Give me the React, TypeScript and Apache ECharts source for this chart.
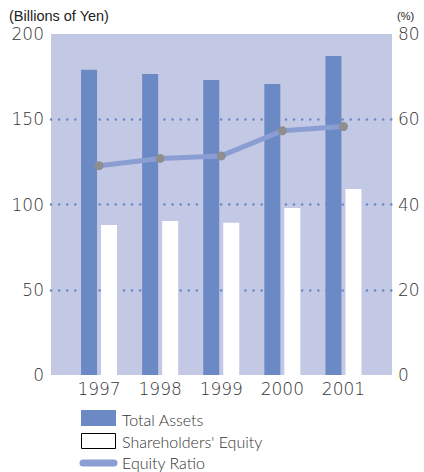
import React, { useEffect, useRef } from "react";
import * as echarts from "echarts";

const years = ["1997", "1998", "1999", "2000", "2001"];
const totalAssets = [179, 176.5, 173, 170.7, 187.1];
const shareholdersEquity = [88, 90.3, 89.3, 97.9, 109.1];
const equityRatio = [49.1, 50.8, 51.4, 57.3, 58.3];
const leftTicks = { min: 0, max: 200, interval: 50 };
const rightTicks = { min: 0, max: 80, interval: 20 };

const BLUE = "#6b89c4";
const BG = "#c3c8e5";
const LINE = "#8b9ed3";
const NUM_FONT = "DejaVu Sans";
const TXT_FONT = "Lato";

export default function App() {
  const ref = useRef<HTMLDivElement>(null);
  useEffect(() => {
    if (!ref.current) return;
    const chart = echarts.init(ref.current, undefined, { renderer: "svg" });
    const numLabel = { fontFamily: NUM_FONT, fontWeight: 200 as any, fontSize: 17, color: "#333" };
    chart.setOption({
      animation: false,
      backgroundColor: "#fff",
      grid: [
        { left: 51, top: 34, width: 341, height: 341, show: true, backgroundColor: BG, borderWidth: 0 },
        { left: 68.5, top: 34, width: 305.5, height: 341 },
      ],
      xAxis: [
        { gridIndex: 0, type: "category", data: [""], show: false },
        {
          gridIndex: 1,
          type: "category",
          data: years,
          axisLine: { show: false },
          axisTick: { show: false },
          axisLabel: { ...numLabel, margin: 5 },
        },
      ],
      yAxis: [
        {
          gridIndex: 0,
          type: "value",
          position: "left",
          ...leftTicks,
          axisLine: { show: false },
          axisTick: { show: false },
          axisLabel: { ...numLabel, margin: 7 },
          splitLine: {
            show: true,
            lineStyle: {
              color: ["transparent", BLUE, BLUE, BLUE, "transparent"],
              width: 2.5,
              type: [0.1, 8],
              cap: "round",
            },
          },
        },
        {
          gridIndex: 0,
          type: "value",
          position: "right",
          ...rightTicks,
          axisLine: { show: false },
          axisTick: { show: false },
          axisLabel: { ...numLabel, margin: 6 },
          splitLine: { show: false },
        },
        { gridIndex: 1, type: "value", ...leftTicks, show: false, splitLine: { show: false } },
        { gridIndex: 1, type: "value", ...rightTicks, show: false, splitLine: { show: false } },
      ],
      series: [
        {
          name: "Total Assets",
          type: "bar",
          xAxisIndex: 1,
          yAxisIndex: 2,
          data: totalAssets,
          barWidth: 16,
          barGap: "25%",
          itemStyle: { color: BLUE },
        },
        {
          name: "Shareholders' Equity",
          type: "bar",
          xAxisIndex: 1,
          yAxisIndex: 2,
          data: shareholdersEquity,
          barWidth: 16,
          barGap: "25%",
          itemStyle: { color: "#ffffff" },
        },
        {
          name: "Equity Ratio",
          type: "line",
          xAxisIndex: 1,
          yAxisIndex: 3,
          data: equityRatio,
          z: 5,
          symbol: "circle",
          symbolSize: 9,
          lineStyle: { color: LINE, width: 5 },
          itemStyle: { color: "#8e8e8e" },
        },
      ],
      graphic: [
        {
          type: "text",
          left: 9,
          top: 8,
          style: { text: "(Billions of Yen)", fontFamily: "Liberation Sans", fontWeight: "normal", fontSize: 14.5, fill: "#222" },
        },
        {
          type: "text",
          left: 397,
          top: 10,
          style: { text: "(%)", fontFamily: "Liberation Sans", fontSize: 11, fill: "#222" },
        },
        { type: "rect", shape: { x: 81, y: 410, width: 35, height: 16 }, style: { fill: BLUE } },
        {
          type: "rect",
          shape: { x: 81.5, y: 433.5, width: 34, height: 15 },
          style: { fill: "#fff", stroke: "#000", lineWidth: 1 },
        },
        {
          type: "line",
          shape: { x1: 83, y1: 463, x2: 114, y2: 463 },
          style: { stroke: LINE, lineWidth: 7, lineCap: "round" },
        },
        {
          type: "text",
          x: 122,
          y: 419,
          style: { text: "Total Assets", fontFamily: TXT_FONT, fontWeight: 300, fontSize: 16, fill: "#333", textVerticalAlign: "middle" },
        },
        {
          type: "text",
          x: 122,
          y: 441,
          style: { text: "Shareholders' Equity", fontFamily: TXT_FONT, fontWeight: 300, fontSize: 16, fill: "#333", textVerticalAlign: "middle" },
        },
        {
          type: "text",
          x: 122,
          y: 462,
          style: { text: "Equity Ratio", fontFamily: TXT_FONT, fontWeight: 300, fontSize: 16, fill: "#333", textVerticalAlign: "middle" },
        },
      ],
    });
    return () => chart.dispose();
  }, []);
  return <div ref={ref} style={{ position: "fixed", left: 0, top: 0, width: 424, height: 472 }} />;
}
